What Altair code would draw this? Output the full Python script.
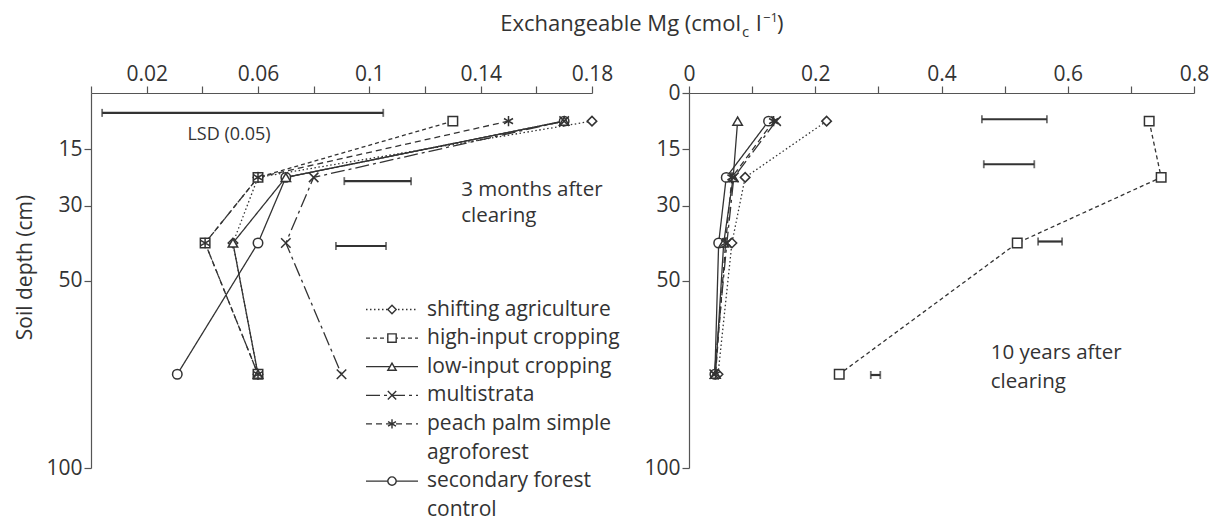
import altair as alt
import pandas as pd

# ---------------- data ----------------
series = [
    "shifting agriculture",
    "high-input cropping",
    "low-input cropping",
    "multistrata",
    "peach palm simple agroforest",
    "secondary forest control",
]
legend_labels = [
    "shifting agriculture",
    "high-input cropping",
    "low-input cropping",
    "multistrata",
    "peach palm simple\nagroforest",
    "secondary forest\ncontrol",
]
depths = [7.5, 22.5, 40, 75]  # cm, mid-points of 0-15, 15-30, 30-50, 50-100

# 3 months after clearing (cmolc/l)
shifting_3m = [0.180, 0.060, 0.051, 0.060]
highinput_3m = [0.130, 0.060, 0.041, 0.060]
lowinput_3m = [0.170, 0.070, 0.051, 0.060]
multistrata_3m = [0.170, 0.080, 0.070, 0.090]
peachpalm_3m = [0.150, 0.060, 0.041, 0.060]
secondary_3m = [0.170, 0.070, 0.060, 0.031]

# 10 years after clearing (cmolc/l)
shifting_10y = [0.218, 0.089, 0.068, 0.046]
highinput_10y = [0.729, 0.748, 0.520, 0.238]
lowinput_10y = [0.077, 0.070, 0.055, 0.042]
multistrata_10y = [0.138, 0.071, 0.060, 0.040]
peachpalm_10y = [0.134, 0.068, 0.058, 0.042]
secondary_10y = [0.126, 0.059, 0.047, 0.041]

# LSD (0.05) bars
lsd_3m_lo = [0.004, 0.091, 0.088]
lsd_3m_hi = [0.105, 0.115, 0.106]
lsd_3m_depth = [5.3, 23.5, 40.8]
lsd_10y_lo = [0.464, 0.467, 0.553, 0.288]
lsd_10y_hi = [0.567, 0.547, 0.591, 0.303]
lsd_10y_depth = [7.0, 19.0, 39.6, 75.2]

x_ticks_3m = [0, 0.02, 0.04, 0.06, 0.08, 0.1, 0.12, 0.14, 0.16, 0.18]
x_ticks_10y = [0, 0.1, 0.2, 0.3, 0.4, 0.5, 0.6, 0.7, 0.8]
y_ticks_3m = [15, 30, 50, 100]
y_ticks_10y = [0, 15, 30, 50, 100]

# ---------------- styles ----------------
INK = "#333333"
FONT = "Open Sans"
dashes = [[1.5, 2.5], [4, 3], [1, 0], [14, 4, 3, 4], [6, 4], [1, 0]]
shapes = [
    "diamond",
    "square",
    "triangle-up",
    "M-1,-1L1,1M-1,1L1,-1",
    "M0,-1.1L0,1.1M-0.95,-0.55L0.95,0.55M-0.95,0.55L0.95,-0.55",
    "circle",
]

W_L, W_R, H = 501, 505, 375
PX_PER_CM = H / 100.0


def make_df(values_by_series):
    rows = []
    for s, vals in zip(series, values_by_series):
        for d, v in zip(depths, vals):
            rows.append({"series": s, "depth": d, "mg": v})
    return pd.DataFrame(rows)


df3 = make_df([shifting_3m, highinput_3m, lowinput_3m, multistrata_3m, peachpalm_3m, secondary_3m])
df10 = make_df([shifting_10y, highinput_10y, lowinput_10y, multistrata_10y, peachpalm_10y, secondary_10y])


def reorder_for_points(df):
    # draw secondary forest first so other symbols sit on top
    order = {s: i for i, s in enumerate(series)}
    order["secondary forest control"] = -1
    return df.assign(z=df["series"].map(order)).sort_values("z")


dash_enc = alt.StrokeDash("series:N", scale=alt.Scale(domain=series, range=dashes), legend=None)
shape_enc = alt.Shape("series:N", scale=alt.Scale(domain=series, range=shapes), legend=None)


def panel(df, xdomain, xticks, yticks, label_mod_expr, lsd_lo, lsd_hi, lsd_depth, ann, ytitle):
    xscale = alt.Scale(domain=xdomain, nice=False, zero=False)
    yscale = alt.Scale(domain=[0, 100], reverse=True, nice=False, zero=False)
    xaxis = alt.Axis(
        orient="top", values=xticks, title=None, labelExpr=label_mod_expr,
        labelFlush=False, labelOverlap=False, tickSize=7, labelPadding=2,
    )
    yaxis_kwargs = dict(values=yticks, format="d", tickSize=7, labelPadding=2, labelOverlap=False)
    if ytitle:
        yaxis = alt.Axis(
            title="Soil depth (cm)", titleX=-66, titleY=174, titleAngle=270,
            titleAlign="center", titleBaseline="middle", **yaxis_kwargs,
        )
    else:
        yaxis = alt.Axis(title=None, **yaxis_kwargs)

    X = alt.X("mg:Q", scale=xscale, axis=xaxis)
    Y = alt.Y("depth:Q", scale=yscale, axis=yaxis)

    lines = alt.Chart(df).mark_line(color=INK, strokeWidth=1.3).encode(
        x=X, y=Y, detail="series:N", order=alt.Order("depth:Q"), strokeDash=dash_enc
    )
    pts = alt.Chart(reorder_for_points(df)).mark_point(
        filled=False, fill="white", fillOpacity=1, stroke=INK, strokeWidth=1.5, size=90, opacity=1
    ).encode(x="mg:Q", y="depth:Q", shape=shape_enc)

    lsd = pd.DataFrame({"lo": lsd_lo, "hi": lsd_hi, "depth": lsd_depth})
    bars = alt.Chart(lsd).mark_rule(color=INK, strokeWidth=2.2).encode(
        x="lo:Q", x2="hi:Q", y="depth:Q"
    )
    caps_lo = alt.Chart(lsd).mark_tick(orient="vertical", color=INK, size=8, thickness=1.8).encode(
        x="lo:Q", y="depth:Q"
    )
    caps_hi = alt.Chart(lsd).mark_tick(orient="vertical", color=INK, size=8, thickness=1.8).encode(
        x="hi:Q", y="depth:Q"
    )
    texts = alt.Chart(pd.DataFrame(ann)).mark_text(
        align="left", baseline="alphabetic", font=FONT, fontSize=20.5, color=INK
    ).encode(x="mg:Q", y="depth:Q", text="text:N")

    return [lines, bars, caps_lo, caps_hi, pts, texts]


# annotation text (data coordinates)
ann_3m = {"text": ["3 months after", "clearing"], "mg": [0.133, 0.133], "depth": [27.4, 34.5]}
ann_10y = {"text": ["10 years after", "clearing"], "mg": [0.478, 0.478], "depth": [71.0, 78.6]}

left_layers = panel(
    df3, [0, 0.18], x_ticks_3m, y_ticks_3m,
    "(round(datum.value*100) % 4 == 2) ? format(datum.value, '~g') : ''",
    lsd_3m_lo, lsd_3m_hi, lsd_3m_depth, ann_3m, True,
)
right_layers = panel(
    df10, [0, 0.8], x_ticks_10y, y_ticks_10y,
    "(round(datum.value*10) % 2 == 0) ? format(datum.value, '~g') : ''",
    lsd_10y_lo, lsd_10y_hi, lsd_10y_depth, ann_10y, False,
)

# LSD label
lsd_label = alt.Chart(pd.DataFrame({"text": ["LSD (0.05)"], "mg": [0.0496], "depth": [12.6]})).mark_text(
    align="center", baseline="alphabetic", font=FONT, fontSize=18, color=INK
).encode(x="mg:Q", y="depth:Q", text="text:N")

# ---------------- custom legend (left panel) ----------------
sym_rows, txt_rows = [], []
row = 0
for s, lab in zip(series, legend_labels):
    parts = lab.split("\n")
    sym_rows.append({"series": s, "row": row})
    for p in parts:
        txt_rows.append({"text": p, "row": row})
        row += 1
LEG_TOP, LEG_STEP = 216.5, 28.6
sym_df = pd.DataFrame(sym_rows)
txt_df = pd.DataFrame(txt_rows)
calc = f"({LEG_TOP} + {LEG_STEP} * datum.row) / {PX_PER_CM}"

leg_lines = alt.Chart(sym_df).transform_calculate(ld=calc).mark_rule(color=INK, strokeWidth=1.3).encode(
    x=alt.value(275), x2=alt.value(327), y="ld:Q", strokeDash=dash_enc
)
leg_pts = alt.Chart(sym_df).transform_calculate(ld=calc).mark_point(
    filled=False, fill="white", fillOpacity=1, stroke=INK, strokeWidth=1.4, size=70, opacity=1
).encode(x=alt.value(301), y="ld:Q", shape=shape_enc)
leg_txt = alt.Chart(txt_df).transform_calculate(ld=calc).mark_text(
    align="left", baseline="middle", font=FONT, fontSize=21, color=INK
).encode(x=alt.value(336), y="ld:Q", text="text:N")

# ---------------- shared top title (rich text pieces) ----------------
def title_piece(txt, x, y, size, align="left"):
    return alt.Chart(pd.DataFrame({"t": [txt]})).mark_text(
        align=align, baseline="alphabetic", font=FONT, fontSize=size, color=INK
    ).encode(x=alt.value(x), y=alt.value(y), text="t:N")

title_layers = [
    title_piece("Exchangeable Mg (cmol", 650, -62, 22, "right"),
    title_piece("c", 651, -56, 15),
    title_piece("l", 665, -62, 22),
    title_piece("\u22121", 672, -71, 13),
    title_piece(")", 686, -62, 22),
]

left = alt.layer(*left_layers, lsd_label, leg_lines, leg_pts, leg_txt, *title_layers).properties(
    width=W_L, height=H
)
right = alt.layer(*right_layers).properties(width=W_R, height=H)

chart = alt.hconcat(left, right, spacing=97, bounds="flush").properties(
    padding={"left": 14, "top": 12, "right": 5, "bottom": 2}
).configure_view(stroke=None).configure_axis(
    grid=False,
    domainColor="#555555",
    tickColor="#555555",
    domainWidth=1.2,
    tickWidth=1.2,
    labelColor=INK,
    labelFont=FONT,
    labelFontSize=21,
    titleFont=FONT,
    titleFontSize=21,
    titleFontWeight="normal",
    titleColor=INK,
).configure_text(font=FONT)

chart.save("out.html", embed_options={"renderer": "svg", "actions": False})
